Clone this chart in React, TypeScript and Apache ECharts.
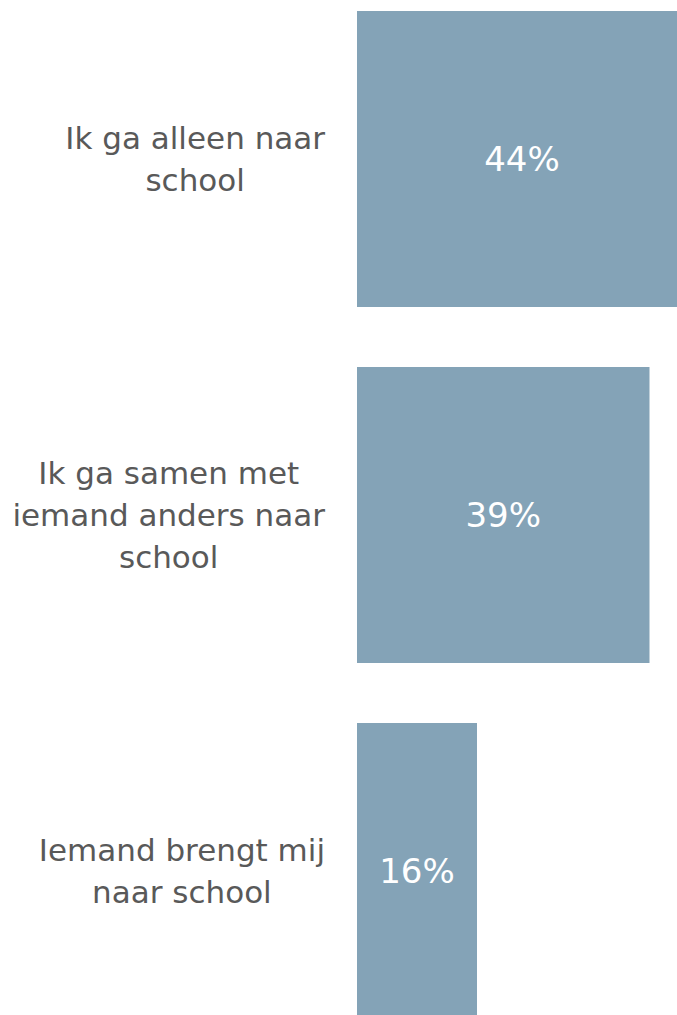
import React, { useEffect, useRef } from "react";
import * as echarts from "echarts";

const categories: string[] = [
  "Ik ga alleen naar\nschool",
  "Ik ga samen met\niemand anders naar\nschool",
  "Iemand brengt mij\nnaar school",
];
const values: number[] = [44, 39, 16];

export default function App() {
  const ref = useRef<HTMLDivElement | null>(null);
  useEffect(() => {
    document.body.style.margin = "0";
    const chart = echarts.init(ref.current!, null, { renderer: "svg" });
    chart.setOption({
      animation: false,
      grid: { left: 357, right: 0, top: 0, bottom: 0, containLabel: false },
      xAxis: {
        type: "value",
        min: 0,
        max: 50,
        show: false,
      },
      yAxis: {
        type: "category",
        inverse: true,
        data: categories,
        axisLine: { show: false },
        axisTick: { show: false },
        splitLine: { show: false },
        axisLabel: {
          margin: 32,
          align: "right",
          formatter: (v: string) =>
            v
              .split("\n")
              .map((l) => `{c|${l}}`)
              .join("\n"),
          rich: {
            c: {
              align: "center",
              fontFamily: "DejaVu Sans",
              fontSize: 31,
              lineHeight: 42,
              color: "#595959",
            },
          },
        },
      },
      series: [
        {
          type: "bar",
          data: values,
          barWidth: 296,
          itemStyle: { color: "#84A3B7" },
          label: {
            show: true,
            position: "inside",
            formatter: (p: any) => `${p.value}%`,
            color: "#ffffff",
            fontFamily: "DejaVu Sans",
            fontSize: 34,
          },
        },
      ],
    });
    return () => chart.dispose();
  }, []);
  return (
    <div style={{ width: 677, height: 1015, overflow: "hidden", position: "relative" }}>
      <div
        ref={ref}
        style={{ position: "absolute", left: 0, top: -19, width: 732, height: 1068 }}
      />
    </div>
  );
}
